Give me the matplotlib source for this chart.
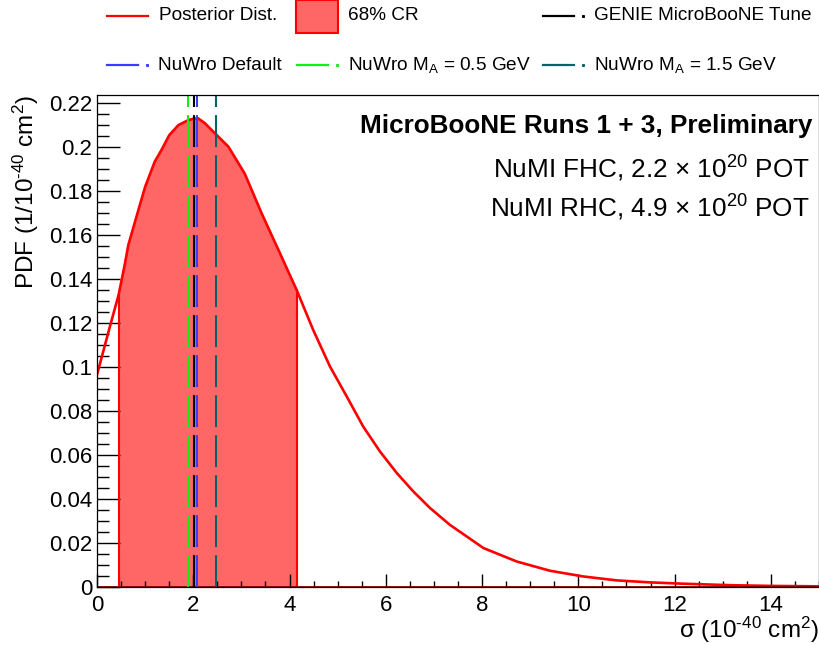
import matplotlib
matplotlib.use("Agg")
import matplotlib.pyplot as plt
from matplotlib.lines import Line2D
from matplotlib.patches import Rectangle
import numpy as np

plt.rcParams['font.family'] = ['Liberation Sans', 'DejaVu Sans']
plt.rcParams['mathtext.fontset'] = 'custom'
plt.rcParams['mathtext.rm'] = 'Liberation Sans'
plt.rcParams['mathtext.it'] = 'Liberation Sans:italic'
plt.rcParams['mathtext.bf'] = 'Liberation Sans:bold'

# posterior pdf
sigma = [0, 0.25, 0.45, 0.58, 0.65, 0.86, 1.0, 1.2, 1.34, 1.5, 1.69, 1.9, 2.0, 2.1,
         2.24, 2.45, 2.73, 3.07, 3.42, 3.77, 4.15, 4.49, 4.84, 5.19, 5.53, 5.88,
         6.23, 6.57, 6.92, 7.33, 8.03, 8.72, 9.41, 10.1, 10.8, 11.49, 12.18, 13.2,
         14.0, 15.0]
pdf = [0.0965, 0.117, 0.133, 0.147, 0.1555, 0.1715, 0.182, 0.1935, 0.1988, 0.2055,
       0.2101, 0.2124, 0.213, 0.2132, 0.211, 0.2064, 0.2003, 0.188, 0.170, 0.1533,
       0.135, 0.117, 0.1003, 0.0866, 0.073, 0.0616, 0.0518, 0.0435, 0.0359, 0.0283,
       0.0177, 0.0116, 0.0074, 0.0048, 0.003, 0.0021, 0.0015, 0.0008, 0.0005, 0.0003]
cr_lo, cr_hi = 0.45, 4.15

# model predictions
model_names = ["GENIE MicroBooNE Tune", "NuWro Default",
               "NuWro M$_\\mathregular{A}$ = 0.5 GeV", "NuWro M$_\\mathregular{A}$ = 1.5 GeV"]
model_xsec = [2.02, 2.07, 1.90, 2.48]
model_colors = ["black", "#3c3cff", "#11ee11", "#006666"]

sigma = np.array(sigma)
pdf = np.array(pdf)

W, H = 820, 645
fig = plt.figure(figsize=(W / 100, H / 100), dpi=100)
ax = fig.add_axes([97 / W, 1 - 587 / H, 722 / W, 492 / H])

# 68% credible region
m = (sigma >= cr_lo) & (sigma <= cr_hi)
ax.fill_between(sigma[m], 0, pdf[m], facecolor="#ff6666", edgecolor="none")
ax.plot([cr_lo, cr_lo], [0, pdf[m][0]], color="red", lw=1.5)
ax.plot([cr_hi, cr_hi], [0, pdf[m][-1]], color="red", lw=1.5)
ax.plot(sigma, pdf, color="red", lw=1.9)
ax.axhline(0, color="#8b0000", lw=2)

for xv, c in zip(model_xsec, model_colors):
    ax.plot([xv, xv], [0, 0.2238], color=c, lw=1.5, ls=(0, (15.3, 3.9)))

ax.set_xlim(0, 15)
ax.set_ylim(0, 0.2238)
ax.set_xticks(np.arange(0, 15, 2))
ax.set_xticks(np.arange(0, 15.01, 0.5), minor=True)
ax.set_yticks(np.arange(0, 0.221, 0.02))
ax.set_yticks(np.arange(0, 0.2238, 0.005), minor=True)
ax.set_yticklabels(["0", "0.02", "0.04", "0.06", "0.08", "0.1", "0.12", "0.14",
                    "0.16", "0.18", "0.2", "0.22"])
ax.tick_params(axis='x', which='major', direction='in', length=9.5, width=1, labelsize=16, pad=6)
ax.tick_params(axis='x', which='minor', direction='in', length=4.5, width=1)
ax.tick_params(axis='y', which='major', direction='in', length=16.5, width=1, labelsize=16, pad=3.5)
ax.tick_params(axis='y', which='minor', direction='in', length=8.5, width=1)
for s in ax.spines.values():
    s.set_linewidth(0.9)

fig.text(26 / W, 1 - 95 / H, "PDF (1/10$^{\\mathregular{\\text{-}40}}$ cm$^{\\mathregular{2}}$)",
         rotation=90, ha='center', va='top', fontsize=17.5)
fig.text(819 / W, 1 - 630 / H, "σ (10$^{\\mathregular{\\text{-}40}}$ cm$^{\\mathregular{2}}$)",
         ha='right', va='center', fontsize=17.5)

fig.text(812 / W, 1 - 133 / H, "MicroBooNE Runs 1 + 3, Preliminary",
         ha='right', va='baseline', fontsize=18.8, fontweight='bold')
fig.text(810 / W, 1 - 178 / H, "NuMI FHC, 2.2 $\\times$ 10$^{\\mathregular{20}}$ POT",
         ha='right', va='baseline', fontsize=18.8)
fig.text(810 / W, 1 - 217 / H, "NuMI RHC, 4.9 $\\times$ 10$^{\\mathregular{20}}$ POT",
         ha='right', va='baseline', fontsize=18.8)

# legend drawn by hand, ROOT style
def fx(px):
    return px / W

def fy(py):
    return 1 - py / H

leg_fs = 13.7
fig.add_artist(Line2D([fx(107), fx(148)], [fy(16), fy(16)], color="red", lw=1.6))
fig.text(fx(159), fy(16), "Posterior Dist.", va='center', fontsize=leg_fs)
fig.add_artist(Rectangle((fx(296), fy(33)), fx(42), 33 / H, transform=fig.transFigure,
                         facecolor="#ff6666", edgecolor="red", lw=1.5))
fig.text(fx(348), fy(16), "68% CR", va='center', fontsize=leg_fs)

slots = [(543, 16), (107, 65), (297, 65), (543, 65)]
for (x0, y0), name, c in zip(slots, model_names, model_colors):
    fig.add_artist(Line2D([fx(x0), fx(x0 + 31)], [fy(y0), fy(y0)], color=c, lw=1.6))
    fig.add_artist(Line2D([fx(x0 + 40)], [fy(y0)], color=c, marker='s', ms=1.2, lw=0))
    fig.text(fx(x0 + 51), fy(y0), name, va='center', fontsize=leg_fs)

fig.savefig("out.png", dpi=100)
